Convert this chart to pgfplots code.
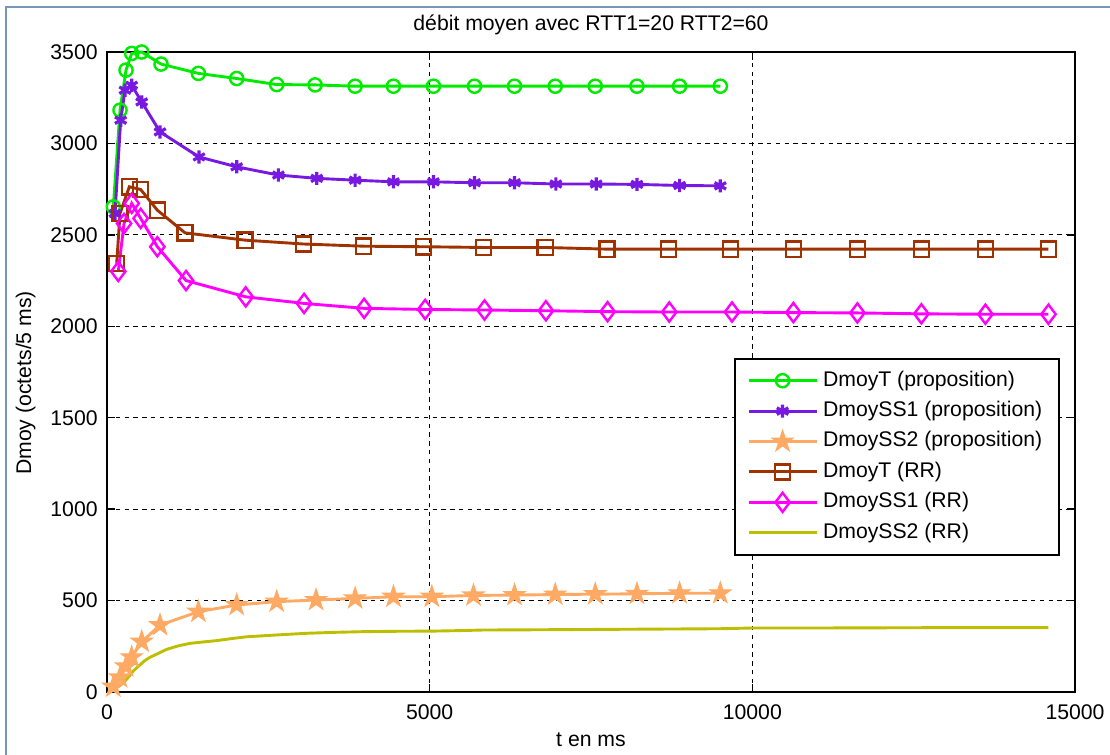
\documentclass[border=0pt]{standalone}
\usepackage{pgfplots}
\pgfplotsset{compat=1.18}
\usepackage{fontspec}
\setmainfont{Liberation Sans}
\definecolor{cT}{RGB}{0,235,0}
\definecolor{cSa}{RGB}{120,25,225}
\definecolor{cSb}{RGB}{255,170,100}
\definecolor{cRT}{RGB}{160,50,0}
\definecolor{cRa}{RGB}{255,0,255}
\definecolor{cRb}{RGB}{190,190,0}
\definecolor{frame}{RGB}{120,150,185}
\pgfdeclareplotmark{pentagram}{%
  \pgfpathmoveto{\pgfpointpolar{90}{\pgfplotmarksize}}%
  \pgfpathlineto{\pgfpointpolar{126}{0.382\pgfplotmarksize}}%
  \pgfpathlineto{\pgfpointpolar{162}{\pgfplotmarksize}}%
  \pgfpathlineto{\pgfpointpolar{198}{0.382\pgfplotmarksize}}%
  \pgfpathlineto{\pgfpointpolar{234}{\pgfplotmarksize}}%
  \pgfpathlineto{\pgfpointpolar{270}{0.382\pgfplotmarksize}}%
  \pgfpathlineto{\pgfpointpolar{306}{\pgfplotmarksize}}%
  \pgfpathlineto{\pgfpointpolar{342}{0.382\pgfplotmarksize}}%
  \pgfpathlineto{\pgfpointpolar{18}{\pgfplotmarksize}}%
  \pgfpathlineto{\pgfpointpolar{54}{0.382\pgfplotmarksize}}%
  \pgfpathclose
  \pgfusepathqfillstroke
}
\begin{document}
\begin{tikzpicture}[font=\fontsize{10.6}{12.7}\selectfont]
\begin{axis}[
  at={(0,0)}, anchor=south west,
  scale only axis, width=484pt, height=320pt,
  xmin=0, xmax=15000, ymin=0, ymax=3500,
  xtick={0,5000,10000,15000}, ytick={0,500,...,3500},
  scaled x ticks=false, scaled y ticks=false,
  /pgf/number format/.cd, set thousands separator={}, assume math mode=true, /pgfplots/.cd,
  tick align=inside, major tick length=4pt,
  tick style={black, line width=0.7pt},
  axis line style={line width=0.9pt},
  grid=major,
  major grid style={black, line width=0.6pt, dash pattern=on 2.2pt off 2.2pt},
  xticklabel style={inner sep=0pt, anchor=base, yshift=-14pt},
  yticklabel style={inner sep=0pt, anchor=east, xshift=-4.5pt},
  title={débit moyen avec RTT1=20 RTT2=60},
  title style={at={(axis description cs:0.5,1.0156)}, anchor=base, inner sep=0pt},
  xlabel={t en ms},
  xlabel style={at={(axis description cs:0.5,-0.0844)}, anchor=base, inner sep=0pt},
  ylabel={Dmoy (octets/5 ms)},
  ylabel style={at={(axis description cs:-0.0785,0.483)}, anchor=base, inner sep=0pt},
  clip=false,
  legend cell align=left,
  legend image code/.code={\draw[mark repeat=2,mark phase=2] plot coordinates {(0pt,0pt)(17pt,0pt)(34pt,0pt)};},
  legend style={at={(axis description cs:0.9845,0.522)}, anchor=north east,
    draw=black, line width=0.8pt, fill=white, inner xsep=6pt, inner ysep=3.4pt,
    nodes={inner xsep=2.5pt, inner ysep=2.5pt, text height=7.8pt, text depth=2.4pt}},
]
\addplot[cT, line width=1.45pt, mark=o, mark size=3.3pt, mark options={solid, line width=1.2pt}] coordinates {
(98,2653)(202,3182)(295,3401)(383,3492)(538,3500)(837,3434)(1416,3383)(2010,3355)(2630,3322)(3225,3320)(3845,3313)(4439,3313)(5059,3313)(5695,3313)(6315,3313)(6946,3313)(7566,3313)(8212,3313)(8873,3313)(9504,3313)};
\addlegendentry{DmoyT (proposition)}
\addplot[cSa, line width=1.45pt, mark=asterisk, mark size=3.3pt, mark options={solid, line width=1.6pt}] coordinates {
(124,2617)(212,3127)(279,3291)(383,3318)(538,3227)(822,3063)(1426,2926)(2010,2872)(2656,2827)(3251,2809)(3845,2799)(4439,2790)(5059,2790)(5695,2785)(6315,2785)(6956,2778)(7580,2778)(8212,2776)(8873,2770)(9504,2768)};
\addlegendentry{DmoySS1 (proposition)}
\addplot[cSb, line width=1.45pt, mark=pentagram, mark size=5.5pt, mark options={solid, line width=0.6pt, fill=cSb}] coordinates {
(98,29)(202,80)(295,140)(383,190)(538,275)(822,366)(1416,439)(2010,476)(2630,494)(3240,503)(3845,512)(4439,521)(5034,521)(5679,528)(6315,530)(6946,533)(7566,535)(8212,537)(8873,540)(9504,540)};
\addlegendentry{DmoySS2 (proposition)}
\addplot[cRT, line width=1.45pt, mark=square, mark size=3.8pt, mark options={solid, line width=1.2pt}] coordinates {
(150,2343)(202,2617)(346,2763)(522,2748)(780,2635)(1209,2511)(2140,2471)(3043,2450)(3974,2438)(4904,2435)(5834,2431)(6791,2431)(7747,2422)(8703,2422)(9659,2422)(10636,2422)(11628,2422)(12620,2422)(13612,2422)(14589,2422)};
\addlegendentry{DmoyT (RR)}
\addplot[cRa, line width=1.45pt, mark=diamond, mark size=4.8pt, mark options={solid, line width=1.2pt}] coordinates {
(175,2300)(264,2562)(383,2672)(522,2590)(780,2435)(1225,2250)(2150,2161)(3054,2125)(3984,2098)(4930,2092)(5850,2089)(6801,2085)(7757,2080)(8713,2078)(9685,2078)(10636,2075)(11628,2073)(12620,2068)(13612,2066)(14589,2066)};
\addlegendentry{DmoySS1 (RR)}
\addplot[cRb, line width=1.45pt] coordinates {
(175,29)(220,40)(280,60)(340,85)(408,115)(500,145)(580,170)(667,190)(800,212)(925,233)(1100,252)(1287,266)(1500,274)(1700,281)(1950,293)(2166,302)(2630,312)(3096,321)(3500,326)(3974,330)(4500,332)(5059,333)(5500,336)(5834,339)(6500,340)(7500,342)(8500,344)(9500,346)(10000,350)(11000,350)(12000,351)(13000,352)(14589,352)};
\addlegendentry{DmoySS2 (RR)}
\end{axis}
\draw[frame, line width=1pt] (-50.5pt,-31.5pt) -- (-50.5pt,342.5pt) -- (501.5pt,342.5pt);
\pgfresetboundingbox
\useasboundingbox (-53.5pt,-31.5pt) rectangle (501.5pt,346pt);
\end{tikzpicture}
\end{document}
